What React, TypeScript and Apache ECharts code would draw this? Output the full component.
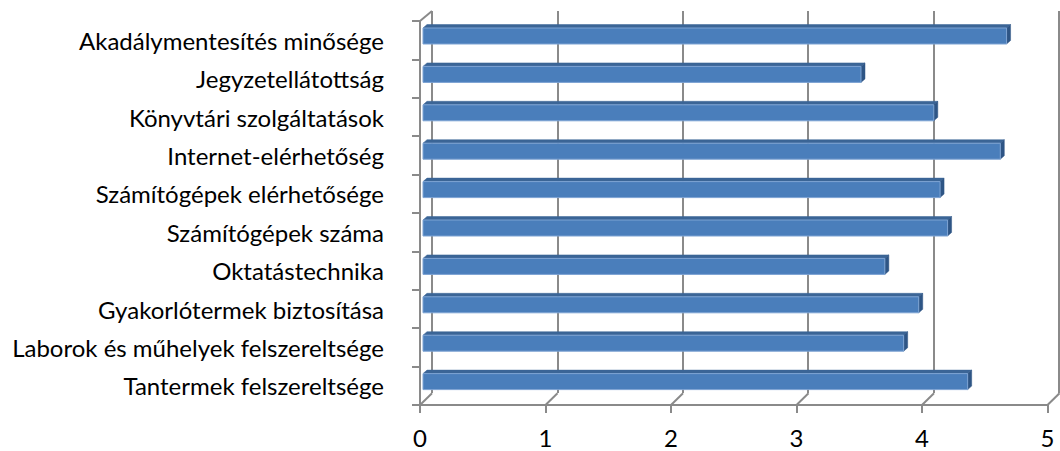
import React, { useEffect, useRef } from "react";
import * as echarts from "echarts";

const categories = [
  "Tantermek felszereltsége",
  "Laborok és műhelyek felszereltsége",
  "Gyakorlótermek biztosítása",
  "Oktatástechnika",
  "Számítógépek száma",
  "Számítógépek elérhetősége",
  "Internet-elérhetőség",
  "Könyvtári szolgáltatások",
  "Jegyzetellátottság",
  "Akadálymentesítés minősége",
];
const values = [4.34, 3.83, 3.95, 3.68, 4.18, 4.12, 4.6, 4.07, 3.49, 4.65];
const xTicks = [0, 1, 2, 3, 4, 5];

const AXIS_COLOR = "#8a8a8a";
const FONT = "Lato, 'Open Sans', sans-serif";

export default function App() {
  const ref = useRef<HTMLDivElement>(null);
  useEffect(() => {
    document.body.style.margin = "0";
    if (!ref.current) return;
    const chart = echarts.init(ref.current, undefined, { renderer: "svg" });
    const DX = 12;
    const DYB = -11.7;
    const DYT = -10;
    chart.setOption({
      animation: false,
      backgroundColor: "#ffffff",
      grid: [
        { left: 420, top: 21, width: 627.5, height: 384, containLabel: false },
        { left: 432, top: 11, width: 627, height: 382, containLabel: false },
      ],
      xAxis: [
        {
          type: "value",
          gridIndex: 0,
          min: 0,
          max: 5,
          interval: 1,
          axisLine: { show: true, lineStyle: { color: AXIS_COLOR, width: 2 } },
          axisTick: { show: true, length: 8, lineStyle: { color: AXIS_COLOR, width: 2 } },
          axisLabel: {
            color: "#000",
            fontSize: 24,
            fontFamily: FONT,
            margin: 20,
            formatter: (v: number) => (xTicks.includes(v) ? String(v) : ""),
          },
          splitLine: { show: false },
        },
        {
          type: "value",
          gridIndex: 1,
          min: 0,
          max: 5,
          interval: 1,
          axisLine: { show: false },
          axisTick: { show: false },
          axisLabel: { show: false },
          splitLine: { show: true, lineStyle: { color: AXIS_COLOR, width: 2 } },
        },
      ],
      yAxis: [
        {
          type: "category",
          gridIndex: 0,
          data: categories,
          axisLine: { show: true, lineStyle: { color: AXIS_COLOR, width: 2 } },
          axisTick: { show: true, length: 8, interval: 0, lineStyle: { color: AXIS_COLOR, width: 2 } },
          axisLabel: {
            color: "#000",
            fontSize: 24,
            fontFamily: FONT,
            margin: 36,
            interval: 0,
          },
          splitLine: { show: false },
        },
        {
          type: "value",
          gridIndex: 1,
          show: false,
          splitLine: { show: false },
        },
      ],
      series: [
        {
          type: "custom",
          xAxisIndex: 0,
          yAxisIndex: 0,
          silent: true,
          z: 1,
          data: xTicks.map((k) => [k, 0]),
          encode: { x: 0, y: 1 },
          renderItem: (params: any, api: any) => {
            const k = api.value(0);
            const p = api.coord([k, 0]);
            const band = api.size([0, 1])[1];
            const yb = p[1] + band / 2;
            const children: any[] = [
              {
                type: "line",
                shape: { x1: p[0], y1: yb, x2: p[0] + DX, y2: yb + DYB },
                style: { stroke: AXIS_COLOR, lineWidth: 2 },
              },
            ];
            if (k === 0) {
              const top = api.coord([0, categories.length - 1])[1] - band / 2;
              children.push({
                type: "line",
                shape: { x1: p[0], y1: top, x2: p[0] + DX, y2: top + DYT },
                style: { stroke: AXIS_COLOR, lineWidth: 2 },
              });
            }
            return { type: "group", children };
          },
        },
        {
          type: "custom",
          xAxisIndex: 0,
          yAxisIndex: 0,
          z: 5,
          data: values.map((v, i) => [v, i]),
          encode: { x: 0, y: 1 },
          renderItem: (params: any, api: any) => {
            const v = api.value(0);
            const i = api.value(1);
            const s = api.coord([0, i]);
            const e = api.coord([v, i]);
            const cy = s[1] - 4.2;
            const h = 8;
            const x0 = s[0] + 3;
            const x1 = e[0] + 3;
            const yt = cy - h;
            const yb = cy + h;
            const ddx = 4;
            const ddy = -3.5;
            return {
              type: "group",
              children: [
                {
                  type: "polygon",
                  shape: {
                    points: [
                      [x0, yt],
                      [x0 + ddx, yt + ddy],
                      [x1 + ddx, yt + ddy],
                      [x1, yt],
                    ],
                  },
                  style: { fill: "#3b6596", stroke: "#3b6596", lineWidth: 0.5 },
                },
                {
                  type: "polygon",
                  shape: {
                    points: [
                      [x1, yt],
                      [x1 + ddx, yt + ddy],
                      [x1 + ddx, yb + ddy],
                      [x1, yb],
                    ],
                  },
                  style: { fill: "#2e5585", stroke: "#2e5585", lineWidth: 0.5 },
                },
                {
                  type: "rect",
                  shape: { x: x0, y: yt, width: x1 - x0, height: yb - yt },
                  style: { fill: "#4a7ebb", stroke: "#7da3d3", lineWidth: 1 },
                },
              ],
            };
          },
        },
      ],
    });
    return () => chart.dispose();
  }, []);
  return <div ref={ref} style={{ width: 1060, height: 451 }} />;
}
